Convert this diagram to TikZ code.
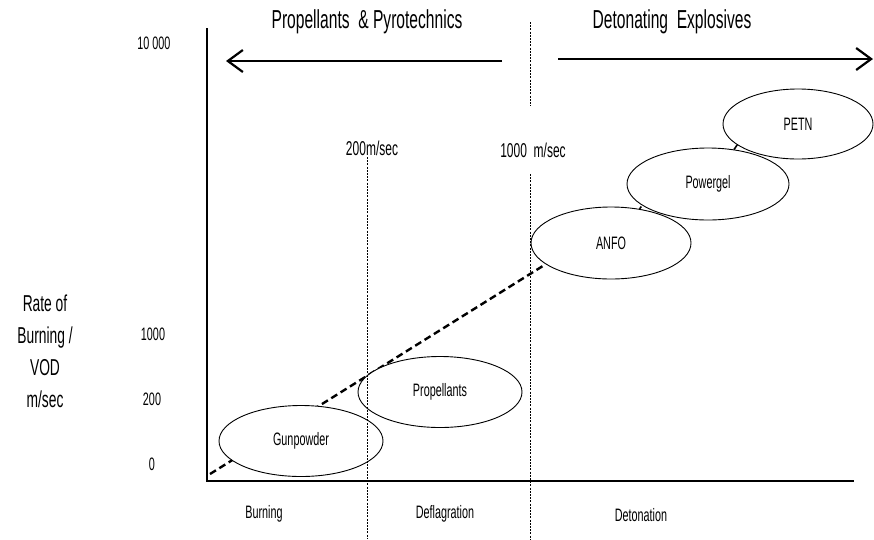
\documentclass[tikz,border=0pt]{standalone}
\usepackage{fontspec}
\setmainfont{Liberation Sans}[FakeStretch=0.6]
\usetikzlibrary{shapes.geometric,arrows.meta,backgrounds}
\tikzset{
  lbl/.style={font=\fontsize{18}{20}\selectfont, inner sep=0pt},
  ttl/.style={font=\fontsize{26}{28}\selectfont, inner sep=0pt},
  blob/.style={ellipse, draw, fill=white, line width=0.9pt, inner sep=0pt,
    minimum width=164pt, minimum height=71pt, font=\fontsize{18}{20}\selectfont},
  axisline/.style={line width=1.3pt},
  guide/.style={line width=0.8pt, dash pattern=on 2pt off 1.2pt},
  trend/.style={line width=2.4pt, dash pattern=on 7pt off 4pt},
  link/.style={line width=1.6pt},
  bigarrow/.style={line width=2.2pt, -{Straight Barb[length=15pt,width=22pt,line width=2.2pt]}},
}
\begin{document}
\begin{tikzpicture}[x=1pt,y=-1pt]
\useasboundingbox (0,0) rectangle (874,539);
% axes
\coordinate (ytop) at (207,28);
\coordinate (orig) at (207,481);
\coordinate (xend) at (854,481);
\draw[axisline] (ytop) -- (orig) -- (xend);
% ellipses
\node[blob] (gun) at (301,441) {Gunpowder};
\node[blob] (prop) at (440,392) {Propellants};
\node[blob, minimum width=160pt, minimum height=72pt] (anfo) at (611,243) {ANFO};
\node[blob, minimum width=162pt, minimum height=72pt] (pg) at (708,184) {Powergel};
\node[blob, minimum width=150pt, minimum height=70pt] (petn) at (798,124) {PETN};
% trend line behind ellipses
\coordinate (tstart) at (210,474);
\begin{pgfonlayer}{background}
\draw[trend] (tstart) -- (anfo.198);
\draw[trend, line width=1.6pt, dash pattern=on 3pt off 2pt] (anfo.50) -- (pg.198);
\end{pgfonlayer}
\draw[link] (pg.53) -- (petn.199);
% guide lines
\coordinate (g2top) at (367,157);
\coordinate (g2bot) at (367,539);
\draw[guide] (g2top) -- (g2bot);
\coordinate (g1a) at (530,22);
\coordinate (g1b) at (530,106);
\coordinate (g1c) at (530,174);
\coordinate (g1d) at (530,539);
\draw[guide] (g1a) -- (g1b);
\draw[guide] (g1c) -- (g1d);
% arrows
\coordinate (la) at (502,61);
\coordinate (lb) at (226,61);
\coordinate (ra) at (558,59);
\coordinate (rb) at (873,59);
\draw[bigarrow] (la) -- (lb);
\draw[bigarrow] (ra) -- (rb);
% titles
\node[ttl] (t1) at (367,22) {Propellants \ \& Pyrotechnics};
\node[ttl] (t2) at (672,22) {Detonating \ Explosives};
% speed labels
\node[lbl, font=\fontsize{20}{22}\selectfont] (s200) at (372,148) {200m/sec};
\node[lbl, font=\fontsize{20}{22}\selectfont] (s1000) at (533,150) {1000 \ m/sec};
% y tick labels
\node[lbl] (y10k) at (154,43) {10 000};
\node[lbl] (y1k) at (153,334) {1000};
\node[lbl] (y200) at (152,399) {200};
\node[lbl] (y0) at (152,464) {0};
% y axis title
\node[lbl, align=center, font=\fontsize{23}{32}\selectfont] (ytitle) at (45,351) {Rate of\\Burning /\\VOD\\m/sec};
% x region labels
\node[lbl] (xb) at (264,514) {Burning};
\node[lbl] (xdf) at (445,514) {Deflagration};
\node[lbl] (xdt) at (641,515) {Detonation};
\end{tikzpicture}
\end{document}
